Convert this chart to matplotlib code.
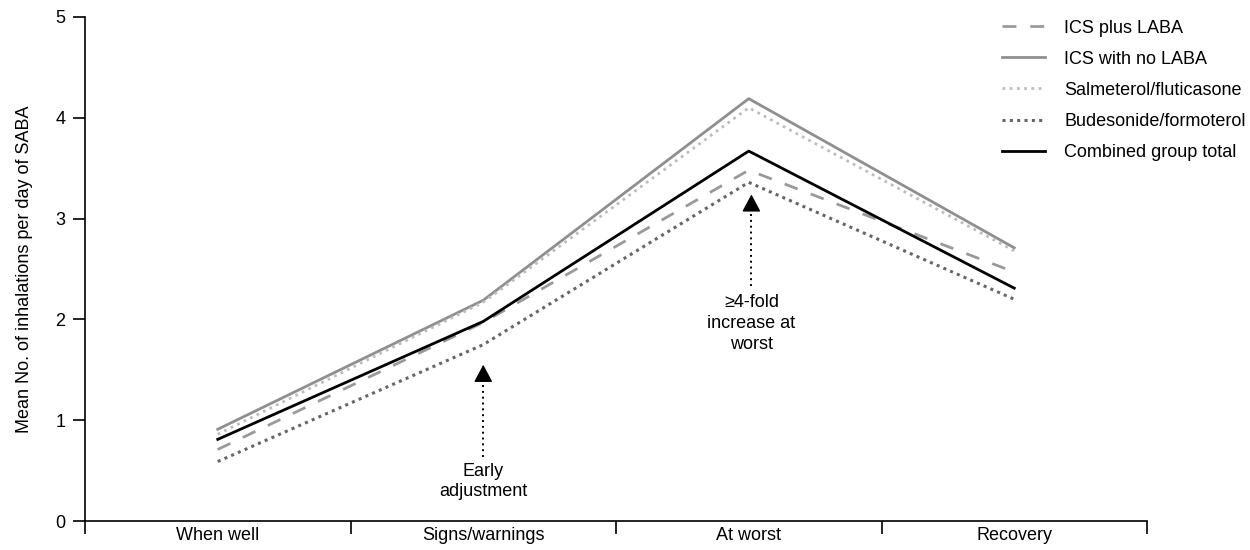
import numpy as np
import matplotlib
matplotlib.use("Agg")
import matplotlib.pyplot as plt

plt.rcParams["font.family"] = ["Liberation Sans", "DejaVu Sans"]

# categories on the x axis
stages = ["When well", "Signs/warnings", "At worst", "Recovery"]

# mean inhalations per day of SABA
icsPlusLaba = [0.71, 1.97, 3.48, 2.47]
icsNoLaba = [0.91, 2.19, 4.19, 2.71]
salmFlutic = [0.86, 2.17, 4.10, 2.68]
budesForm = [0.59, 1.75, 3.36, 2.20]
combined = [0.81, 1.98, 3.67, 2.31]

fs = 13

fig = plt.figure(figsize=(12.5, 5.5), dpi=100)
ax = fig.add_axes([0.068, 0.0527, 0.8496, 0.9164])

x = np.arange(len(stages)) + 0.5

ax.plot(x, icsPlusLaba, color="#999999", lw=2.0, linestyle=(0, (5, 5)), label="ICS plus LABA")
ax.plot(x, icsNoLaba, color="#8f8f8f", lw=2.0, label="ICS with no LABA")
ax.plot(x, salmFlutic, color="#bdbdbd", lw=2.0, linestyle=(0, (1, 1.6)), label="Salmeterol/fluticasone")
ax.plot(x, budesForm, color="#666666", lw=2.2, linestyle=(0, (1, 1.4)), label="Budesonide/formoterol")
ax.plot(x, combined, color="black", lw=2.0, label="Combined group total")

ax.set_xlim(0, 4)
ax.set_ylim(0, 5)
ax.set_yticks([0, 1, 2, 3, 4, 5])
ax.set_xticks([0, 1, 2, 3, 4])
ax.set_xticklabels([])
ax.set_xticks(x, minor=True)
ax.set_xticklabels(stages, minor=True)
ax.tick_params(axis="x", which="minor", length=0, pad=4, labelsize=fs)
ax.tick_params(axis="x", which="major", length=9, width=1.2, direction="out")
ax.tick_params(axis="y", length=9, width=1.2, direction="out", labelsize=fs, pad=5)

for s in ["top", "right"]:
    ax.spines[s].set_visible(False)
for s in ["left", "bottom"]:
    ax.spines[s].set_linewidth(1.2)

ax.set_ylabel("Mean No. of inhalations per day of SABA", fontsize=fs, labelpad=16)

# annotation arrows: dotted shaft with a solid head
def dotted_arrow(xpos, ybase, ytip):
    ax.plot([xpos, xpos], [ybase, ytip - 0.06], color="black", lw=1.4, linestyle=(0, (1, 2)))
    ax.annotate("", xy=(xpos, ytip), xytext=(xpos, ytip - 0.14),
                arrowprops=dict(arrowstyle="-|>,head_width=0.32,head_length=0.6",
                                mutation_scale=18, color="black", lw=1.0,
                                shrinkA=0, shrinkB=0))

dotted_arrow(1.5, 0.64, 1.55)
ax.text(1.5, 0.58, "Early\nadjustment", ha="center", va="top", fontsize=fs, linespacing=1.3)

dotted_arrow(2.51, 2.33, 3.24)
ax.text(2.51, 2.25, "\u22654-fold\nincrease at\nworst", ha="center", va="top", fontsize=fs, linespacing=1.3)

leg = ax.legend(loc="upper left", bbox_to_anchor=(0.848, 1.027), frameon=False, fontsize=fs,
                handlelength=2.4, handletextpad=1.05, labelspacing=0.78)

fig.savefig("out.png", dpi=100)
